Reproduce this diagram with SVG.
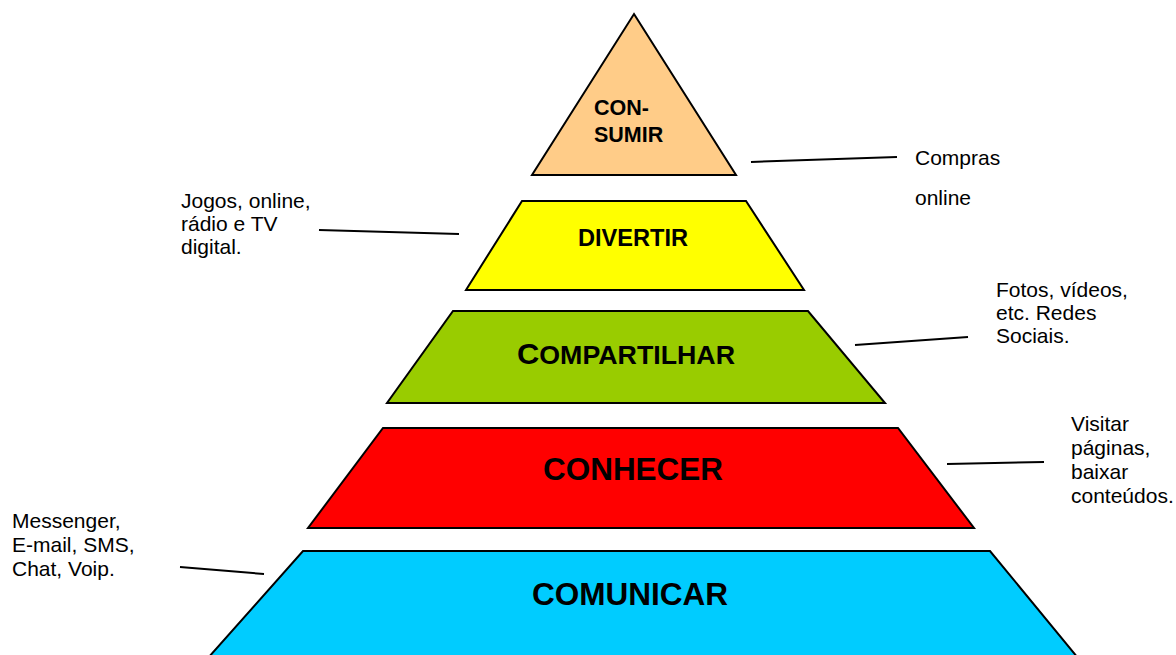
<svg xmlns="http://www.w3.org/2000/svg" width="1176" height="655" viewBox="0 0 1176 655">
<style>
.shape{stroke:#000;stroke-width:2;stroke-linejoin:miter}
.lbl{font-family:"Liberation Sans",Arial,sans-serif;font-size:21px;fill:#000}
.big{font-family:"Liberation Sans",Arial,sans-serif;font-weight:bold;fill:#000}
.conn line{stroke:#000;stroke-width:2}
</style>
<rect width="1176" height="655" fill="#fff"/>
<g id="consumir">
<polygon class="shape" fill="#FFCC88" points="634,14 736,175 532,175"/>
<text class="big" font-size="21.5" x="594" y="115">CON-</text>
<text class="big" font-size="21.5" x="594" y="142">SUMIR</text>
</g>
<g id="divertir">
<polygon class="shape" fill="#FFFF00" points="522,201 746,201 804,290 466,290"/>
<text class="big" font-size="24" x="578" y="246" textLength="110" lengthAdjust="spacingAndGlyphs">DIVERTIR</text>
</g>
<g id="compartilhar">
<polygon class="shape" fill="#99CC00" points="453,311 808,311 885,403 387,403"/>
<text class="big" x="517" y="364" textLength="218" lengthAdjust="spacingAndGlyphs"><tspan font-size="30">C</tspan><tspan font-size="26">OMPARTILHAR</tspan></text>
</g>
<g id="conhecer">
<polygon class="shape" fill="#FF0000" points="383,428 898,428 974,528 308,528"/>
<text class="big" font-size="31" x="543" y="480" textLength="180" lengthAdjust="spacingAndGlyphs">CONHECER</text>
</g>
<g id="comunicar">
<polygon class="shape" fill="#00CCFF" points="303,551 990,551 1078,658 208,658"/>
<text class="big" font-size="31" x="532" y="605" textLength="196" lengthAdjust="spacingAndGlyphs">COMUNICAR</text>
</g>
<g id="connectors" class="conn">
<line x1="751" y1="162" x2="897" y2="157"/>
<line x1="319" y1="230" x2="459" y2="234"/>
<line x1="855" y1="345" x2="968" y2="337"/>
<line x1="947" y1="464" x2="1044" y2="462"/>
<line x1="180" y1="567" x2="264" y2="574"/>
</g>
<g id="label-compras">
<text class="lbl" x="915" y="165">Compras</text>
<text class="lbl" x="915" y="205">online</text>
</g>
<g id="label-jogos">
<text class="lbl" x="181" y="208">Jogos, online,</text>
<text class="lbl" x="181" y="231">rádio e TV</text>
<text class="lbl" x="181" y="254">digital.</text>
</g>
<g id="label-fotos">
<text class="lbl" x="996" y="297">Fotos, vídeos,</text>
<text class="lbl" x="996" y="320">etc. Redes</text>
<text class="lbl" x="996" y="343">Sociais.</text>
</g>
<g id="label-visitar">
<text class="lbl" x="1071" y="431">Visitar</text>
<text class="lbl" x="1071" y="455">páginas,</text>
<text class="lbl" x="1071" y="479">baixar</text>
<text class="lbl" x="1071" y="503">conteúdos.</text>
</g>
<g id="label-messenger">
<text class="lbl" x="12" y="528">Messenger,</text>
<text class="lbl" x="12" y="552">E-mail, SMS,</text>
<text class="lbl" x="12" y="576">Chat, Voip.</text>
</g>
</svg>
